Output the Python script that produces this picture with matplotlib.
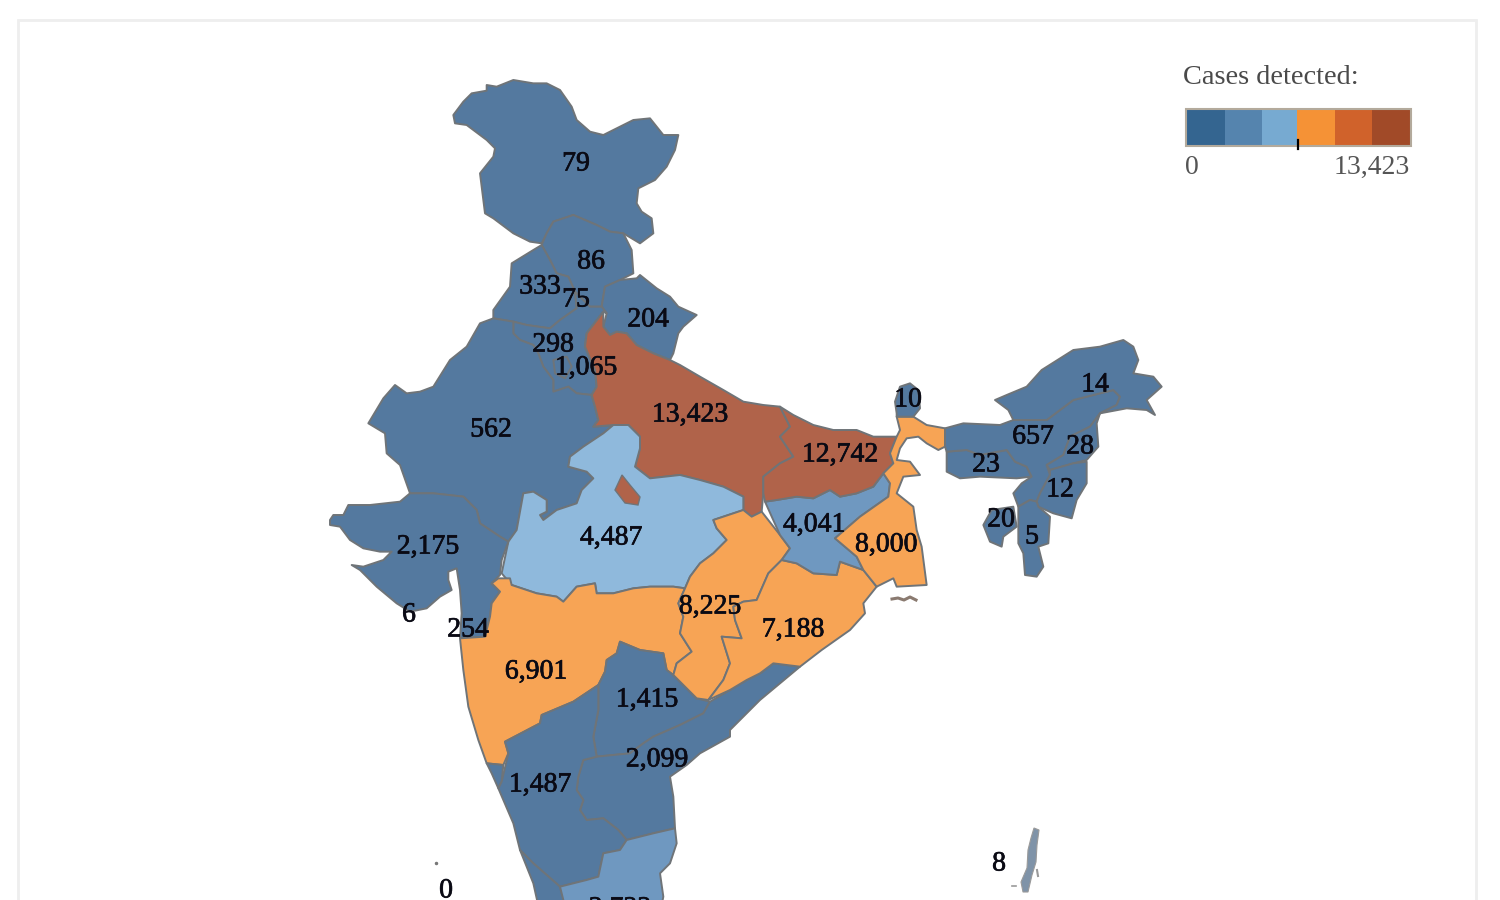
import matplotlib
matplotlib.use("Agg")
import matplotlib.pyplot as plt
import matplotlib.patheffects as pe
from matplotlib.colors import ListedColormap, BoundaryNorm
from matplotlib.patches import Polygon, Rectangle

plt.rcParams['font.family'] = ['Liberation Serif', 'DejaVu Serif']

# ---- data ----
states = ["Jammu & Kashmir", "Himachal Pradesh", "Punjab", "Chandigarh", "Uttarakhand", "Haryana", "Delhi",
          "Uttar Pradesh", "Rajasthan", "Bihar", "Sikkim", "Arunachal Pradesh", "Assam", "Nagaland", "Meghalaya",
          "Manipur", "Jharkhand", "Tripura", "Mizoram", "West Bengal", "Madhya Pradesh", "Gujarat", "Daman & Diu",
          "Dadra & Nagar Haveli", "Chhattisgarh", "Odisha", "Maharashtra", "Telangana", "Andhra Pradesh",
          "Karnataka", "Andaman & Nicobar", "Lakshadweep", "Tamil Nadu"]
cases = [79, 86, 333, 75, 204, 298, 1065, 13423, 562, 12742, 10, 14, 657, 28, 23, 12, 4041, 20, 5, 8000, 4487,
         2175, 6, 254, 8225, 7188, 6901, 1415, 2099, 1487, 8, 0, 2722]
goa_cases = 30
kerala_cases = 1200
legend_title = "Cases detected:"
legend_min = "0"
legend_max = "13,423"
max_cases = 13423
legend_colors = ["#346590", "#5584ae", "#77aad1", "#f59236", "#d0622b", "#a14a28"]
map_colors = ["#54799f", "#6f98c0", "#8fb9dc", "#f7a455", "#d98050", "#b0634a"]

# ---- geometry: region outlines, traced in pixels of three reference crops ----
def A(p): return [(320 + x / 3, 70 + y / 3) for x, y in p]
def B(p): return [(320 + x / 3, 480 + y / 3) for x, y in p]
def C(p): return [(680 + x / 3, 330 + y / 3) for x, y in p]

outlines = {
"Jammu & Kashmir": A([(400,135),(430,95),(455,70),(500,62),(500,45),(530,50),(580,30),(640,40),(680,40),(720,60),(755,110),(770,150),(810,185),(850,195),(890,175),(940,150),(990,145),(1030,195),(1075,195),(1065,240),(1040,290),(1005,330),(955,355),(950,400),(965,425),(995,445),(1000,490),(960,520),(910,490),(870,485),(830,465),(760,435),(700,455),(680,490),(665,520),(630,515),(580,490),(520,445),(495,430),(480,310),(520,260),(525,235),(500,210),(440,165),(405,160)]),
"Himachal Pradesh": A([(665,525),(680,490),(700,455),(760,435),(830,465),(870,485),(910,490),(935,540),(940,610),(900,630),(855,650),(845,710),(810,710),(765,665),(745,620),(710,610),(690,570)]),
"Punjab": A([(665,525),(690,570),(710,610),(745,620),(765,665),(770,715),(720,750),(690,775),(620,765),(580,755),(520,745),(520,720),(570,650),(575,580),(640,540)]),
"Uttarakhand": A([(855,650),(900,630),(950,625),(960,615),(1010,655),(1050,680),(1075,710),(1130,735),(1090,770),(1075,790),(1060,850),(1050,870),(1000,850),(950,825),(920,790),(890,785),(870,795),(850,770),(860,730),(845,710)]),
"Haryana": A([(770,715),(765,665),(810,710),(845,710),(860,730),(850,725),(800,790),(795,830),(825,900),(830,950),(815,975),(770,970),(745,950),(700,965),(700,930),(670,890),(655,850),(640,825),(600,810),(580,790),(580,755),(620,765),(690,775),(720,750)]),
"Delhi": A([(700,870),(740,860),(755,890),(735,925),(705,910)]),
"Rajasthan": A([(480,760),(520,745),(580,755),(580,790),(600,810),(640,825),(655,850),(670,890),(700,930),(700,965),(745,950),(770,970),(815,975),(825,1010),(835,1050),(820,1070),(880,1065),(850,1090),(790,1130),(750,1160),(745,1190),(800,1205),(820,1225)])
  + B([(785,30),(770,70),(710,90),(670,120),(660,105),(680,95),(680,60),(640,35),(610,40),(590,150),(565,185),(540,170),(480,130),(470,90),(430,50),(340,40),(270,40)])
  + A([(240,1185),(200,1150),(195,1090),(145,1060),(190,985),(225,945),(260,970),(300,965),(340,950),(390,870),(440,830)]),
"Uttar Pradesh": A([(850,725),(800,790),(795,830),(825,900),(830,950),(815,975),(825,1010),(835,1050),(820,1070),(880,1065),(925,1065),(960,1100),(960,1135),(945,1190),(990,1225),(1080,1215)])
  + C([(60,450),(130,470),(190,500),(190,540),(215,560),(245,545),(250,490),(250,440),(300,400),(340,380),(300,320),(330,290),(300,230),(250,225),(190,215),(130,180),(60,140),(0,105)])
  + A([(1050,870),(1000,850),(950,825),(920,790),(890,785),(870,795),(850,770)]),
"Madhya Pradesh": A([(880,1065),(925,1065),(960,1100),(960,1135),(945,1190),(990,1225),(1080,1215)])
  + C([(60,450),(130,470),(190,500),(190,540),(100,570),(110,595),(140,630),(100,670),(60,700),(30,740)])
  + B([(1095,325),(1060,320),(990,320),(940,325),(880,340),(830,340),(825,310),(770,320),(730,365),(710,350),(650,340),(575,315),(545,280),(565,185),(590,150),(610,40),(640,35),(680,60),(680,95),(660,105),(670,120),(710,90),(770,70),(785,30)])
  + A([(820,1225),(800,1205),(745,1190),(750,1160),(790,1130),(850,1090)]),
"Gujarat": B([(30,120),(40,105),(70,105),(85,75),(150,75),(240,65),(270,40),(340,40),(430,50),(470,90),(480,130),(540,170),(565,185),(545,240),(540,285),(515,310),(540,335),(515,370),(510,410),(495,470),(420,475),(425,400),(420,330),(410,265),(385,275),(385,300),(395,330),(360,350),(320,385),(270,395),(230,370),(170,320),(120,270),(95,255),(130,260),(190,240),(215,215),(180,215),(130,205),(90,180),(60,140),(30,135)]),
"Maharashtra": B([(515,310),(535,295),(570,295),(575,315),(650,340),(710,350),(730,365),(770,320),(825,310),(830,340),(880,340),(940,325),(990,320),(1060,320),(1095,325),(1075,370),(1090,410),(1080,460),(1115,515),(1070,550),(1060,585),(1040,570),(1030,520),(960,510),(900,485),(890,520),(860,540),(855,575),(835,615),(760,665),(665,705),(660,730),(555,785),(565,820),(550,855),(500,850),(475,780),(445,680),(430,570),(420,475),(495,470),(510,410),(515,370),(540,335)]),
"Goa": B([(500,850),(550,855),(545,905),(535,925),(515,880)]),
"Telangana": B([(900,485),(960,510),(1030,520),(1040,570),(1060,585),(1130,655),(1170,665),(1150,700),(1080,735),(1000,770),(970,790),(930,820),(830,830),(820,770),(835,690),(835,615),(855,575),(860,540),(890,520)]),
"Andhra Pradesh": B([(830,830),(930,820),(970,790),(1000,770),(1080,735),(1150,700),(1170,665)])
  + C([(150,1080),(200,1050),(240,1030),(280,1000),(360,1010),(300,1060),(240,1110),(150,1200)])
  + B([(1230,770),(1140,820),(1100,855),(1050,890),(1060,950),(1065,1045),(1000,1060),(920,1080),(895,1050),(850,1015),(800,1020),(780,990),(790,960),(770,930),(775,890),(790,840)]),
"Chhattisgarh": C([(100,570),(190,540),(215,560),(245,545),(300,615),(330,655),(305,690),(265,730),(230,810),(190,815),(160,830),(165,870),(185,925),(125,920),(150,1000),(130,1050),(85,1110)])
  + B([(1130,655),(1060,585),(1070,550),(1115,515),(1080,460),(1090,410),(1075,370),(1095,325)])
  + C([(30,740),(60,700),(100,670),(140,630),(110,595)]),
"Odisha": C([(305,690),(350,700),(400,730),(470,735),(480,695),(550,720),(590,770),(550,820),(555,850),(510,900),(425,960),(360,1010),(280,1000),(240,1030),(200,1050),(150,1080),(85,1110),(130,1050),(150,1000),(125,920),(185,925),(165,870),(160,830),(190,815),(230,810),(265,730)]),
"Jharkhand": C([(255,515),(290,510),(350,500),(400,505),(450,480),(480,500),(530,490),(580,470),(610,430),(630,460),(625,500),(540,560),(465,625),(530,680),(550,720),(480,695),(470,735),(400,730),(350,700),(305,690),(330,655),(300,615)]),
"Bihar": C([(300,230),(340,255),(400,285),(460,300),(530,300),(580,320),(650,320),(630,370),(640,400),(610,430),(580,470),(530,490),(480,500),(450,480),(400,505),(350,500),(290,510),(255,515),(250,490),(250,440),(300,400),(340,380),(300,320),(330,290)]),
"West Bengal": C([(650,260),(700,260),(740,285),(795,295),(795,350),(775,360),(740,340),(715,320),(680,325),(660,355),(650,390),(690,395),(720,435),(670,440),(650,490),(700,530),(710,600),(725,650),(740,765),(650,770),(640,745),(590,770),(550,720),(530,680),(465,625),(540,560),(625,500),(630,460),(610,430),(640,400),(630,370),(650,320),(660,300)]),
"Sikkim": C([(650,250),(645,215),(660,170),(690,160),(715,180),(720,235),(700,260),(650,260)]),
"Meghalaya": C([(800,365),(860,360),(900,375),(980,360),(1005,395),(1040,410),(1055,440),(1010,445),(900,440),(840,445),(800,425)]),
"Assam": C([(795,295),(850,280),(960,285),(1000,270),(1100,270),(1180,210),(1300,180),(1320,200),(1310,225),(1260,250),(1230,290),(1170,320),(1150,375),(1100,405),(1110,435),(1080,490),(1070,515),(1050,510),(1015,530),(1000,490),(1025,460),(1055,440),(1040,410),(1005,395),(980,360),(900,375),(860,360),(800,365),(795,350)]),
"Arunachal Pradesh": C([(945,210),(980,195),(1040,170),(1085,120),(1180,60),(1260,50),(1330,30),(1360,50),(1375,90),(1360,130),(1420,140),(1445,170),(1400,210),(1425,255),(1400,240),(1340,235),(1260,250),(1310,225),(1320,200),(1300,180),(1180,210),(1100,270),(1000,270),(985,240)]),
"Nagaland": C([(1260,250),(1250,280),(1255,350),(1220,390),(1180,400),(1110,420),(1100,405),(1150,375),(1170,320),(1230,290)]),
"Manipur": C([(1110,420),(1180,400),(1220,395),(1220,460),(1190,510),(1175,565),(1120,550),(1075,530),(1070,515),(1080,490),(1110,435)]),
"Mizoram": C([(1015,530),(1050,510),(1070,515),(1075,530),(1110,560),(1105,640),(1075,650),(1090,710),(1070,740),(1035,735),(1030,670),(1015,640)]),
"Tripura": C([(1000,530),(1010,590),(970,620),(965,650),(930,635),(910,585),(935,540)]),
"Karnataka": B([(555,785),(660,730),(665,705),(760,665),(835,615),(835,690),(820,770),(830,830),(790,840),(775,890),(770,930),(790,960),(780,990),(800,1020),(850,1015),(895,1050),(920,1080),(900,1110),(850,1120),(835,1190),(800,1200),(720,1220),(640,1150),(600,1110),(580,1030),(535,925),(545,905),(565,820)]),
"Kerala": B([(600,1110),(640,1150),(720,1220),(735,1270),(700,1300),(660,1300),(640,1210)]),
"Tamil Nadu": B([(720,1220),(800,1200),(835,1190),(850,1120),(900,1110),(920,1080),(1000,1060),(1065,1045),(1070,1090),(1050,1150),(1020,1180),(1030,1250),(1020,1300),(740,1300)]),
}

label_px = {
"Jammu & Kashmir": (576,162), "Himachal Pradesh": (591,260), "Punjab": (540,285), "Chandigarh": (576,298),
"Uttarakhand": (648,318), "Haryana": (553,343), "Delhi": (586,366), "Uttar Pradesh": (690,413), "Rajasthan": (491,428),
"Bihar": (840,453), "Sikkim": (908,398), "Arunachal Pradesh": (1095,383), "Assam": (1033,435), "Nagaland": (1080,445),
"Meghalaya": (986,463), "Manipur": (1060,488), "Jharkhand": (814,523), "Tripura": (1001,518), "Mizoram": (1032,535),
"West Bengal": (886,543), "Madhya Pradesh": (611,536), "Gujarat": (428,545), "Daman & Diu": (409,613),
"Dadra & Nagar Haveli": (468,628), "Chhattisgarh": (710,605), "Odisha": (793,628), "Maharashtra": (536,670),
"Telangana": (647,698), "Andhra Pradesh": (657,758), "Karnataka": (540,783), "Andaman & Nicobar": (999,862),
"Lakshadweep": (446,889), "Tamil Nadu": (620,907),
}

cmap = ListedColormap(map_colors)
norm = BoundaryNorm([max_cases * i / 6 for i in range(7)], 6)
value_of = dict(zip(states, cases))
value_of["Goa"] = goa_cases
value_of["Kerala"] = kerala_cases

fig = plt.figure(figsize=(15, 9), dpi=100, facecolor="white")
ax = fig.add_axes([0, 0, 1, 1])
ax.set_xlim(0, 1500)
ax.set_ylim(900, 0)
ax.axis("off")

ax.add_patch(Rectangle((18, 20), 1458, 900, fc="white", ec="#eeeeee", lw=2, zorder=0))

edge = "#6f7478"
for name, pts in outlines.items():
    ax.add_patch(Polygon(pts, closed=True, fc=cmap(norm(value_of[name])), ec=edge, lw=1.4, joinstyle="round", zorder=2))

# Jhansi exclave of Uttar Pradesh
ax.add_patch(Polygon([(622,475),(615,490),(625,503),(638,505),(640,497),(630,485)], closed=True,
                     fc=cmap(norm(value_of["Uttar Pradesh"])), ec=edge, lw=1, zorder=3))
# Sundarbans specks and Lakshadweep dot
ax.plot([892, 898, 904, 910, 916], [599, 598, 600, 597, 600], color="#8a7a70", lw=2.2, zorder=2)
ax.plot([436], [863], marker="o", ms=1.5, color="#777777", zorder=2)
# Andaman & Nicobar chain: fuzzy, thin islands
ax.add_patch(Polygon([(1034,828),(1039,830),(1037,845),(1036,862),(1032,875),(1028,892),(1023,892),(1021,882),(1027,868),(1028,850),(1031,838)],
                     closed=True, fc="#7f93a8", ec="#9a9a9a", lw=0.8, zorder=2))
ax.plot([1012, 1016], [886, 886], color="#9a9a9a", lw=1.2, zorder=2)
ax.plot([1037, 1038], [870, 876], color="#9a9a9a", lw=1.5, zorder=2)

stroke = [pe.withStroke(linewidth=0.5, foreground="#0a0a14")]
for name, value in zip(states, cases):
    x, y = label_px[name]
    ax.text(x, y + 2, f"{value:,}", ha="center", va="center", fontsize=20, color="#0a0a14", zorder=5,
            path_effects=stroke)

# legend
ax.text(1183, 78, legend_title, ha="left", va="center", fontsize=20.4, color="#4a4a4a", zorder=5)
edges = [1186, 1225, 1262, 1297, 1335, 1372, 1411]
for i, col in enumerate(legend_colors):
    ax.add_patch(Rectangle((edges[i], 109), edges[i + 1] - edges[i], 37, fc=col, ec="none", zorder=3))
ax.add_patch(Rectangle((edges[0], 109), edges[-1] - edges[0], 37, fc="none", ec="#b3aa9c", lw=1.5, zorder=4))
ax.plot([1298, 1298], [140, 149], color="black", lw=1.6, zorder=5)
ax.text(1185, 167, legend_min, ha="left", va="center", fontsize=20, color="#555555", zorder=5)
ax.text(1410, 167, legend_max, ha="right", va="center", fontsize=20, color="#555555", zorder=5)

fig.savefig("out.png", dpi=100)
